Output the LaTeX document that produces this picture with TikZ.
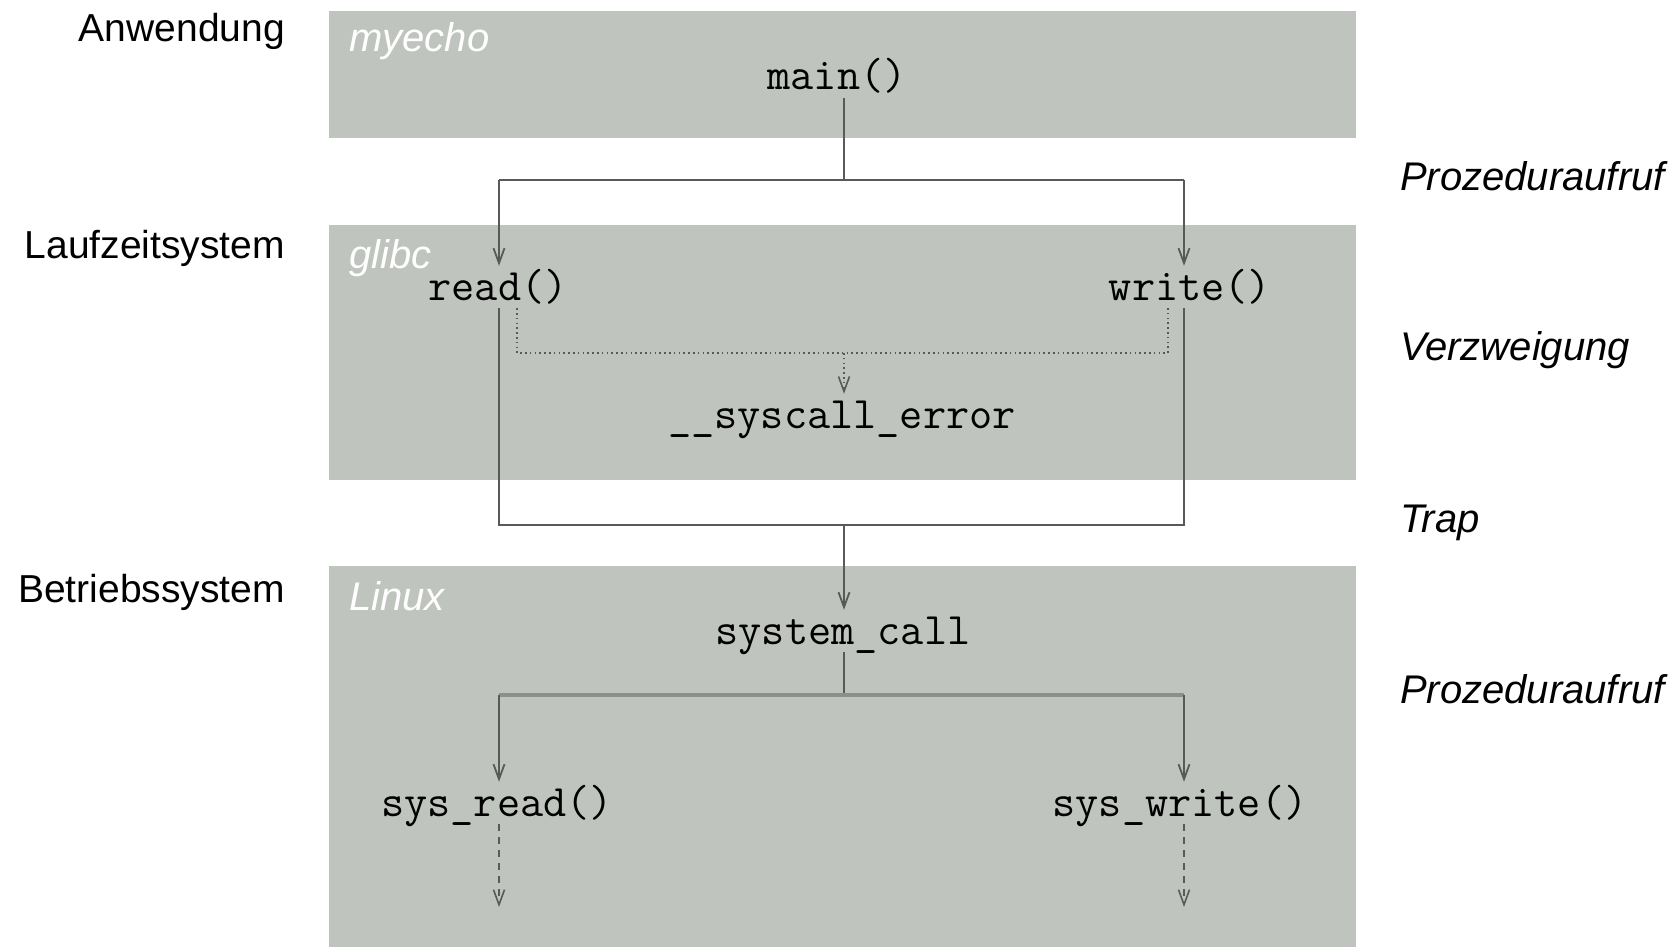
\documentclass[tikz,border=0pt]{standalone}
\usepackage{fontspec}
\setmainfont{Liberation Sans}
\usetikzlibrary{arrows.meta}
\definecolor{boxgrey}{RGB}{192,196,190}
\definecolor{linec}{RGB}{88,90,87}
\definecolor{forkc}{RGB}{140,143,138}
\tikzset{
  layerbox/.style={fill=boxgrey, draw=none, inner sep=0pt, anchor=north west, minimum width=1027pt},
  mono/.style={font=\ttfamily\fontsize{45}{50}\selectfont, text height=28pt, text depth=2pt, inner xsep=0pt, inner ysep=6pt, anchor=base},
  lefttxt/.style={font=\fontsize{39}{46}\selectfont, anchor=base east, inner sep=0pt},
  righttxt/.style={font=\itshape\fontsize{40}{46}\selectfont, anchor=base west, inner sep=0pt},
  boxtxt/.style={font=\itshape\fontsize{40}{46}\selectfont, text=white, anchor=base west, inner sep=0pt},
  conn/.style={draw=linec, line width=2pt},
  arr/.style={conn, -{Straight Barb[length=15pt,width=11pt,line width=1.8pt]}},
  dotline/.style={draw=linec, line width=1.6pt, dash pattern=on 1.6pt off 3.2pt},
  dashline/.style={draw=linec, line width=1.8pt, dash pattern=on 7pt off 6pt},
}
\begin{document}
\begin{tikzpicture}[x=1pt,y=-1pt]
\useasboundingbox (0,0) rectangle (1679,947);
% layer boxes
\node[layerbox, minimum height=127pt] (appbox) at (329,11) {};
\node[layerbox, minimum height=255pt] (libbox) at (329,225) {};
\node[layerbox, minimum height=381pt] (osbox) at (329,566) {};
% box captions
\node[boxtxt] (lmyecho) at (349,52) {myecho};
\node[boxtxt] (lglibc) at (349,268) {glibc};
\node[boxtxt] (llinux) at (349,610) {Linux};
% left labels
\node[lefttxt] (lapp) at (285,42) {Anwendung};
\node[lefttxt] (llz) at (285,258) {Laufzeitsystem};
\node[lefttxt] (lbs) at (285,602) {Betriebssystem};
% right labels
\node[righttxt] (rp1) at (1400,190) {Prozeduraufruf};
\node[righttxt] (rv) at (1400,360) {Verzweigung};
\node[righttxt] (rt) at (1400,532) {Trap};
\node[righttxt] (rp2) at (1400,703) {Prozeduraufruf};
% function nodes
\node[mono] (main) at (837,90) {main()};
\node[mono] (rd) at (498,300) {read()};
\node[mono] (wr) at (1190,300) {write()};
\node[mono] (se) at (842,428) {\_\_syscall\_error};
\node[mono] (sc) at (843,644) {system\_call};
\node[mono] (sr) at (497,816) {sys\_read()};
\node[mono] (sw) at (1180,816) {sys\_write()};
% coordinates
\coordinate (f1) at (844,180);
\coordinate (f1l) at (499,180);
\coordinate (f1r) at (1184,180);
\coordinate (d1) at (844,353);
\coordinate (d1l) at (517,353);
\coordinate (d1r) at (1168,353);
\coordinate (j1) at (844,525);
\coordinate (j1l) at (499,525);
\coordinate (j1r) at (1184,525);
\coordinate (f2) at (844,695);
\coordinate (f2l) at (499,695);
\coordinate (f2r) at (1184,695);
\coordinate (e1) at (499,907);
\coordinate (e2) at (1184,907);
% procedure call main -> read/write
\draw[conn] (main.south -| f1) -- (f1);
\draw[conn] (f1l) -- (f1r);
\draw[arr] (f1l) -- (f1l |- rd.north);
\draw[arr] (f1r) -- (f1r |- wr.north);
% branch to __syscall_error
\draw[dotline] (rd.south -| d1l) -- (d1l) -- (d1r) -- (wr.south -| d1r);
\draw[dotline, -{Straight Barb[length=15pt,width=11pt,line width=1.6pt]}] (d1) -- (d1 |- se.north);
% trap
\draw[conn] (rd.south -| j1l) -- (j1l) -- (j1r) -- (wr.south -| j1r);
\draw[arr] (j1) -- (j1 |- sc.north);
% procedure call system_call -> sys_read/sys_write
\draw[conn] (sc.south -| f2) -- (f2);
\draw[draw=forkc, line width=4pt] (f2l) -- (f2r);
\draw[arr] (f2l) -- (f2l |- sr.north);
\draw[arr] (f2r) -- (f2r |- sw.north);
% continuation
\draw[dashline, -{Straight Barb[length=15pt,width=11pt,line width=1.6pt]}] (sr.south -| e1) -- (e1);
\draw[dashline, -{Straight Barb[length=15pt,width=11pt,line width=1.6pt]}] (sw.south -| e2) -- (e2);
\end{tikzpicture}
\end{document}
